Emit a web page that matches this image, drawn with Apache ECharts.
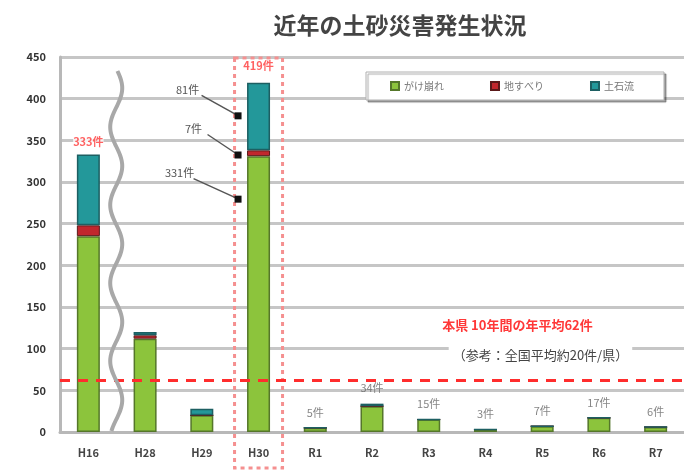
<!DOCTYPE html>
<html><head><meta charset="utf-8">
<script src="https://cdn.jsdelivr.net/npm/echarts@6/dist/echarts.min.js"></script>
<style>html,body{margin:0;padding:0;background:#fff}#c{width:684px;height:471px}</style>
</head><body><div id="c"></div>
<script>
// ---- data ----
const categories = ['H16','H28','H29','H30','R1','R2','R3','R4','R5','R6','R7'];
const seriesNames = ['がけ崩れ','地すべり','土石流'];
const gakeValues = [235,112,20,331,5,31,15,3,7,17,6];
const jisuberiValues = [13,4,0,7,0,0,0,0,0,0,0];
const dosekiValues = [85,4,8,81,0,3,0,0,0,0,0];
const hiddenTotalCats = ['H28','H29'];
const highlightCats = ['H16','H30'];
const averageValue = 62;
const averageText = '本県 10年間の年平均62件';
const referenceText = '（参考：全国平均約20件/県）';
const titleText = '近年の土砂災害発生状況';
const yMin = 0, yMax = 450, yStep = 50;

const totals = categories.map((c,i)=>gakeValues[i]+jisuberiValues[i]+dosekiValues[i]);
const FONT = '"Noto Sans CJK JP","Noto Sans",sans-serif';

const chart = echarts.init(document.getElementById('c'));
const barBase = {type:'bar', stack:'a', barWidth:23};
const option = {
  animation:false,
  title:{text:titleText,left:395,top:9,textAlign:'center',
    textStyle:{fontFamily:FONT,fontSize:23,fontWeight:'bold',color:'#444'}},
  legend:{data:seriesNames,left:366,top:72,orient:'horizontal',
    backgroundColor:'#fff',borderColor:'#b0b0b0',borderWidth:1,
    shadowColor:'rgba(0,0,0,0.35)',shadowOffsetX:2,shadowOffsetY:2,shadowBlur:1,
    padding:[9,30,9,24],itemGap:46,itemWidth:8,itemHeight:8,icon:'rect',
    textStyle:{fontFamily:FONT,fontSize:10,color:'#777'}},
  grid:{left:60,right:-6,top:57,bottom:39},
  xAxis:{type:'category',data:categories,
    axisLine:{lineStyle:{color:'#b8b8b8',width:3}},axisTick:{show:false},
    axisLabel:{fontFamily:FONT,fontSize:11,fontWeight:'bold',color:'#444',margin:15}},
  yAxis:{type:'value',min:yMin,max:yMax,interval:yStep,
    axisLine:{show:true,lineStyle:{color:'#b8b8b8',width:3}},
    splitLine:{lineStyle:{color:'#c6c6c6',width:3}},
    axisLabel:{fontFamily:FONT,fontSize:11,fontWeight:'bold',color:'#333',margin:14}},
  series:[
    Object.assign({},barBase,{name:seriesNames[0],data:gakeValues,
      itemStyle:{color:'#8cc43c',borderColor:'#55772a',borderWidth:1.5}}),
    Object.assign({},barBase,{name:seriesNames[1],data:jisuberiValues,
      itemStyle:{color:'#c1272d',borderColor:'#5a1a1a',borderWidth:1}}),
    Object.assign({},barBase,{name:seriesNames[2],data:dosekiValues,
      itemStyle:{color:'#23989a',borderColor:'#1d5f62',borderWidth:1.5}}),
    {type:'scatter',name:'total',symbolSize:0,silent:true,z:5,
      data:totals.map((v,i)=>{
        const c = categories[i];
        const hide = hiddenTotalCats.includes(c);
        const hl = highlightCats.includes(c);
        return {value:[c,v],label:{show:!hide,
          color:hl?'#ff3a3a':'#666',
          backgroundColor:hl?'#fff':'transparent',
          distance:c==='H30'?12:(hl?7:10),
          fontWeight:hl?'bold':'normal'}};
      }),
      label:{show:true,position:'top',fontFamily:FONT,fontSize:11,
        formatter:p=>p.value[1]+'件'},
      markLine:{silent:true,symbol:'none',
        lineStyle:{color:'#ff2d2d',type:[10,8],width:3},
        label:{show:false},data:[{yAxis:averageValue}]}
    }
  ]
};
chart.setOption(option);

// ---- decorations ----
const P = (c,v)=>chart.convertToPixel({xAxisIndex:0,yAxisIndex:0},[c,v]);
const g = [];
// wavy break line between H16 and H28
const x0 = (P('H16',0)[0]+P('H28',0)[0])/2 - 0.5;
const yTop = P('H16',yMax)[1]+14, yBot = P('H16',0)[1];
const pts = [];
for(let y=yTop;y<=yBot;y+=3){pts.push([x0+6*Math.sin((y-yTop)/78*2*Math.PI+0.2),y]);}
g.push({type:'polyline',shape:{points:pts,smooth:0.3},style:{stroke:'#a8a8a8',lineWidth:4,fill:null},z:10});

// dotted rectangle around H30
const c30 = P('H30',0);
g.push({type:'rect',shape:{x:c30[0]-24,y:58,width:48,height:410},
  style:{stroke:'#f59090',lineWidth:3,lineDash:[4,4],fill:null},z:1});

// callouts for H30 segments
const i30 = categories.indexOf('H30');
const callouts = [
  {text:dosekiValues[i30]+'件', v:380, dx:-50},
  {text:jisuberiValues[i30]+'件', v:333, dx:-44},
  {text:gakeValues[i30]+'件', v:280, dx:-58}
];
callouts.forEach(cl=>{
  const p = P('H30',cl.v);
  const sx = p[0]-21, sy = p[1];
  g.push({type:'line',shape:{x1:sx+cl.dx+14,y1:sy-20,x2:sx,y2:sy},style:{stroke:'#555',lineWidth:1.5},z:11});
  g.push({type:'rect',shape:{x:sx-3,y:sy-3,width:7,height:7},style:{fill:'#111'},z:12});
  g.push({type:'text',x:sx+cl.dx,y:sy-26,style:{text:cl.text,fill:'#555',font:'11px '+FONT,textAlign:'center',textVerticalAlign:'middle'},z:12});
});

// average annotation
const pa = P('R4',averageValue);
g.push({type:'text',x:pa[0]+32,y:P('R4',128)[1],style:{text:averageText,fill:'#ff3838',font:'bold 13px '+FONT,textAlign:'center',textVerticalAlign:'middle',backgroundColor:'#fff'},z:12});
g.push({type:'text',x:pa[0]+55,y:P('R4',92)[1],style:{text:referenceText,fill:'#444',font:'13px '+FONT,textAlign:'center',textVerticalAlign:'middle',backgroundColor:'#fff',padding:[2,4]},z:12});
chart.setOption({graphic:g});
</script></body></html>
